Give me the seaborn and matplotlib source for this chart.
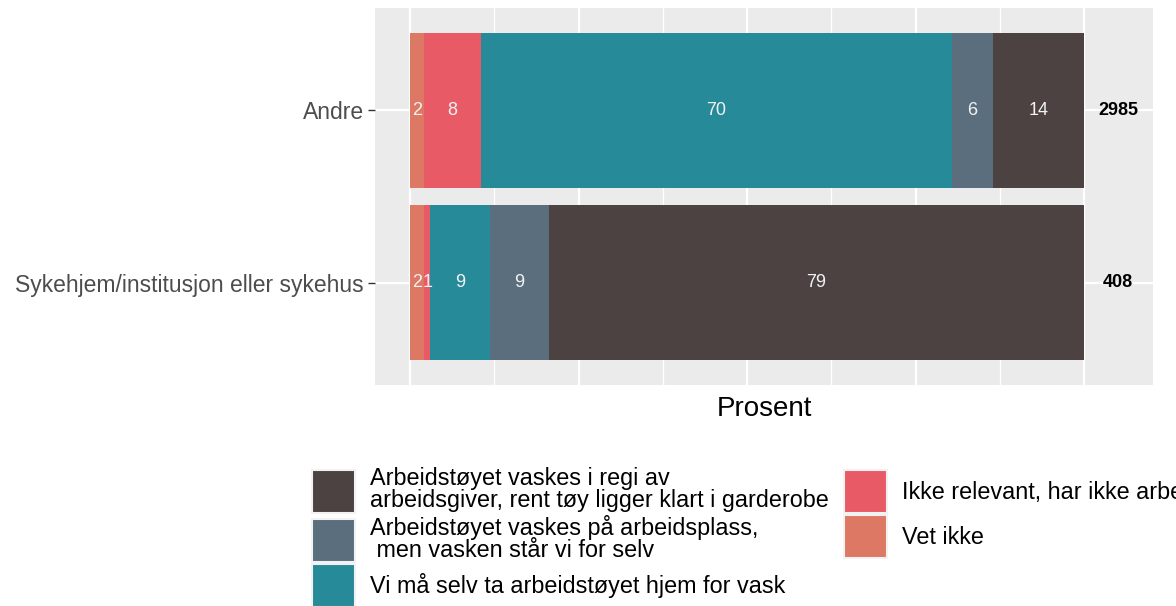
import pandas as pd
import matplotlib
matplotlib.use("Agg")
import matplotlib.pyplot as plt
from matplotlib.patches import Patch
import seaborn as sns

# data, left to right in each bar
categories = ["Andre", "Sykehjem/institusjon eller sykehus"]
n_resp = [2985, 408]

responses = [
    "Vet ikke",
    "Ikke relevant, har ikke arbeidstøy",
    "Vi må selv ta arbeidstøyet hjem for vask",
    "Arbeidstøyet vaskes på arbeidsplass,\n men vasken står vi for selv",
    "Arbeidstøyet vaskes i regi av\narbeidsgiver, rent tøy ligger klart i garderobe",
]
vet_ikke = [2.1, 2.1]
ikke_relevant = [8.4, 0.9]
selv_hjem = [69.9, 8.9]
arbeidsplass = [6.1, 8.7]
arbeidsgiver = [13.5, 79.4]
colors = ["#DD7864", "#E75A66", "#278A99", "#5A6E7E", "#4B4241"]

series = [vet_ikke, ikke_relevant, selv_hjem, arbeidsplass, arbeidsgiver]

sns.set_style("darkgrid", {"axes.facecolor": "#EBEBEB", "grid.color": "white"})
plt.rcParams["font.family"] = ["Liberation Sans", "DejaVu Sans"]

df = pd.DataFrame({"kategori": categories})
cum = [0.0] * len(categories)
starts = []
for i, s in enumerate(series):
    starts.append(list(cum))
    cum = [c + v for c, v in zip(cum, s)]
    df[f"cum{i}"] = cum

fig = plt.figure(figsize=(11.76, 6.06), dpi=100)
ax = fig.add_axes([375 / 1176, 1 - 385 / 606, 778 / 1176, 377 / 606])

# stacked by overplotting cumulative totals, widest first
for i in reversed(range(len(series))):
    sns.barplot(data=df, x=f"cum{i}", y="kategori", orient="h", color=colors[i],
                saturation=1, width=0.9, linewidth=0, ax=ax, zorder=2)

for i, s in enumerate(series):
    for j, v in enumerate(s):
        ax.text(starts[i][j] + v / 2, j, str(int(v + 0.5)), ha="center", va="center",
                color="#F2F2F2", fontsize=13, zorder=3)

for j, n in enumerate(n_resp):
    ax.text(105, j, str(n), ha="center", va="center", color="black",
            fontsize=13, fontweight="bold", zorder=3)

ax.set_xlim(-5.2, 110.2)
ax.set_ylim(1.595, -0.595)
ax.set_xticks([0, 25, 50, 75, 100])
ax.set_xticks([12.5, 37.5, 62.5, 87.5], minor=True)
ax.grid(which="major", axis="both", color="white", linewidth=1.6, zorder=0)
ax.grid(which="minor", axis="x", color="white", linewidth=0.9, zorder=0)
ax.set_axisbelow(True)
ax.tick_params(axis="x", which="both", length=0, labelbottom=False)
ax.tick_params(axis="y", length=5, width=1, color="#333333", labelsize=16.5,
               labelcolor="#4D4D4D", pad=3, left=True)
for sp in ax.spines.values():
    sp.set_visible(False)
ax.set_ylabel("")
ax.set_xlabel("Prosent", fontsize=20, color="black", labelpad=8)

leg_size = 16.8
px = leg_size * 100 / 72
key = 43 / px
# matplotlib trims 0.35*(h-0.7) font sizes off a patch handle
key_h = (key - 0.245) / 0.65
order = [4, 3, 2, 1, 0]
handles = [Patch(facecolor=colors[i], edgecolor="#F2F2F2", linewidth=1.5) for i in order]
labels = [responses[i] for i in order]
leg = fig.legend(handles, labels, loc="upper left", bbox_to_anchor=(312 / 1176, 1 - 467 / 606),
                 ncol=2, frameon=False, borderpad=0, borderaxespad=0,
                 handlelength=key, handleheight=key_h, handletextpad=15 / px,
                 columnspacing=15 / px, labelspacing=2 / px,
                 prop={"family": "Liberation Sans", "size": leg_size})
for t in leg.get_texts():
    t.set_linespacing(0.95)
    t.set_color("black")

fig.savefig("out.png", dpi=100)
